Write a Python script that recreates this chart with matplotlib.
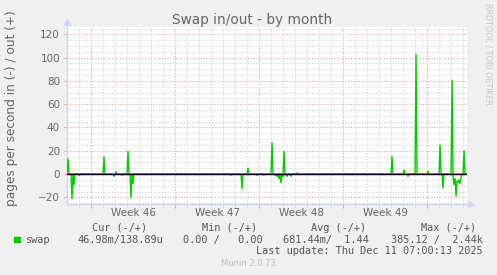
import numpy as np
import matplotlib
matplotlib.use("Agg")
import matplotlib.pyplot as plt
import matplotlib.transforms as mtrans

# time axis in days, 0 = monday of week 46, one sample every 2 hours
t_start = -2.0
t_end = 31.33
samples_per_day = 12

# swap out (+)
out_t = [-1.89, 1.08, 2.08, 3.11, 13.11, 15.11, 16.08, 17.14,
         25.11, 26.11, 27.11, 28.11, 29.11, 30.11, 31.11]
out_v = [13, 15, 2, 19.5, 5, 27, 19.5, 1,
         15, 3.5, 103, 2.5, 25, 80.5, 20]

# swap in (-)
in_t = [-1.56, -1.42, -1.0, 1.92, 2.58, 3.36, 3.5, 11.67, 12.58, 13.83, 14.42,
        15.33, 15.5, 15.67, 15.83, 16.0, 16.33, 16.67, 26.44, 29.36,
        30.2, 30.28, 30.36, 30.44, 30.53, 30.61, 30.7, 30.78, 30.86]
in_v = [-21, -9, -1, -2, -1, -20, -8, -1, -12.5, -1, -1,
        -1, -2, -4, -7.5, -2, -2, -2, -2, -12,
        -2, -9, -4, -19, -6, -7, -5, -8, -3]

weeks = ["Week 46", "Week 47", "Week 48", "Week 49"]
week_starts = [0, 7, 14, 21, 28]

legend_cols = ["Cur (-/+)", "Min (-/+)", "Avg (-/+)", "Max (-/+)"]
legend_vals = ["46.98m/138.89u", "0.00 /   0.00", "681.44m/  1.44", "385.12 /  2.44k"]

# series on the 2h grid
n = int(round((t_end - t_start) * samples_per_day)) + 1
t = t_start + np.arange(n) / samples_per_day
out_s = np.zeros(n)
in_s = np.zeros(n)
for tt, v in zip(out_t, out_v):
    out_s[int(round((tt - t_start) * samples_per_day))] = v
for tt, v in zip(in_t, in_v):
    in_s[int(round((tt - t_start) * samples_per_day))] = v

W, H = 497, 275
fig = plt.figure(figsize=(W / 100, H / 100), dpi=100, facecolor="#F0F0F0")
ax = fig.add_axes([67 / W, 1 - 204 / H, 400 / W, 177 / H])
ax.set_facecolor("#FFFFFF")

font_col = "#666666"
minor_col = "#D6D6D6"
major_col = "#EFA5A5"

ax.set_xlim(t_start, t_end)
ax.set_ylim(-25.7, 126.3)

# grid
ax.set_yticks(np.arange(-20, 121, 20))
ax.set_yticks(np.arange(-25, 126, 5), minor=True)
ax.set_xticks(week_starts)
ax.set_xticks(np.arange(-1, 32, 1), minor=True)
ax.grid(which="minor", color=minor_col, linestyle=(0, (1, 1.5)), linewidth=0.8)
ax.grid(which="major", color=major_col, linestyle=(0, (1, 1.5)), linewidth=0.8)
ax.set_axisbelow(True)
ax.set_xticklabels([])
ax.tick_params(axis="y", which="major", labelsize=7.5, labelcolor=font_col,
               length=2, color=major_col, pad=3)
ax.tick_params(axis="y", which="minor", length=0)
ax.tick_params(axis="x", which="major", length=3, color=major_col, direction="out")
ax.tick_params(axis="x", which="minor", length=2, color="#C8C8F0", direction="out")

for s in ["top", "right"]:
    ax.spines[s].set_visible(False)
for s in ["left", "bottom"]:
    ax.spines[s].set_color("#CFD6F8")
    ax.spines[s].set_linewidth(1)

# arrows on axes
ax.plot([0], [1.03], marker="^", color="#CFD6F8", markersize=4,
        transform=ax.transAxes, clip_on=False)
ax.plot([1.01], [0], marker=">", color="#CFD6F8", markersize=4,
        transform=ax.transAxes, clip_on=False)

ax.plot(t, out_s, color="#00CC00", linewidth=1, zorder=3)
ax.plot(t, in_s, color="#00CC00", linewidth=1, zorder=3)
ax.axhline(0, color="#000000", linewidth=1, zorder=4)

# week labels centred between the week boundaries
trans = mtrans.blended_transform_factory(ax.transData, fig.transFigure)
for i, w in enumerate(weeks):
    mid = (week_starts[i] + week_starts[i + 1]) / 2
    ax.text(mid, 1 - 213 / H, w, transform=trans, ha="center", va="center",
            fontsize=7.5, color=font_col)

fig.text(252 / W, 1 - 20 / H, "Swap in/out - by month", ha="center", va="center",
         fontsize=9.8, color=font_col)
fig.text(12 / W, 1 - 108 / H, "pages per second in (-) / out (+)", rotation=90,
         ha="center", va="center", fontsize=8.7, color=font_col)
fig.text(488 / W, 1 - 54 / H, "RRDTOOL / TOBI OETIKER", rotation=270,
         ha="center", va="center", fontsize=5.8, color="#C8C8C8")

# legend
mono = "DejaVu Sans Mono"
leg_col = "#555555"
fs = 7.4
head_right = [147, 257, 366, 476]
val_right = [163, 263, 369, 483]
for x, s in zip(head_right, legend_cols):
    fig.text(x / W, 1 - 228 / H, s, ha="right", va="center", family=mono,
             fontsize=fs, color=leg_col)
for x, s in zip(val_right, legend_vals):
    fig.text(x / W, 1 - 240 / H, s, ha="right", va="center", family=mono,
             fontsize=fs, color=leg_col)
fig.patches.append(plt.Rectangle((14 / W, 1 - 242 / H), 5.5 / W, 5.5 / H,
                                 transform=fig.transFigure, color="#00CC00"))
fig.text(26 / W, 1 - 240 / H, "swap", ha="left", va="center", family=mono,
         fontsize=fs, color=leg_col)
fig.text(483 / W, 1 - 251.5 / H, "Last update: Thu Dec 11 07:00:13 2025",
         ha="right", va="center", family=mono, fontsize=fs, color=leg_col)
fig.text(248 / W, 1 - 264 / H, "Munin 2.0.73", ha="center", va="center",
         fontsize=6, color="#C0C0C0")

fig.savefig("out.png", dpi=100, facecolor=fig.get_facecolor())
